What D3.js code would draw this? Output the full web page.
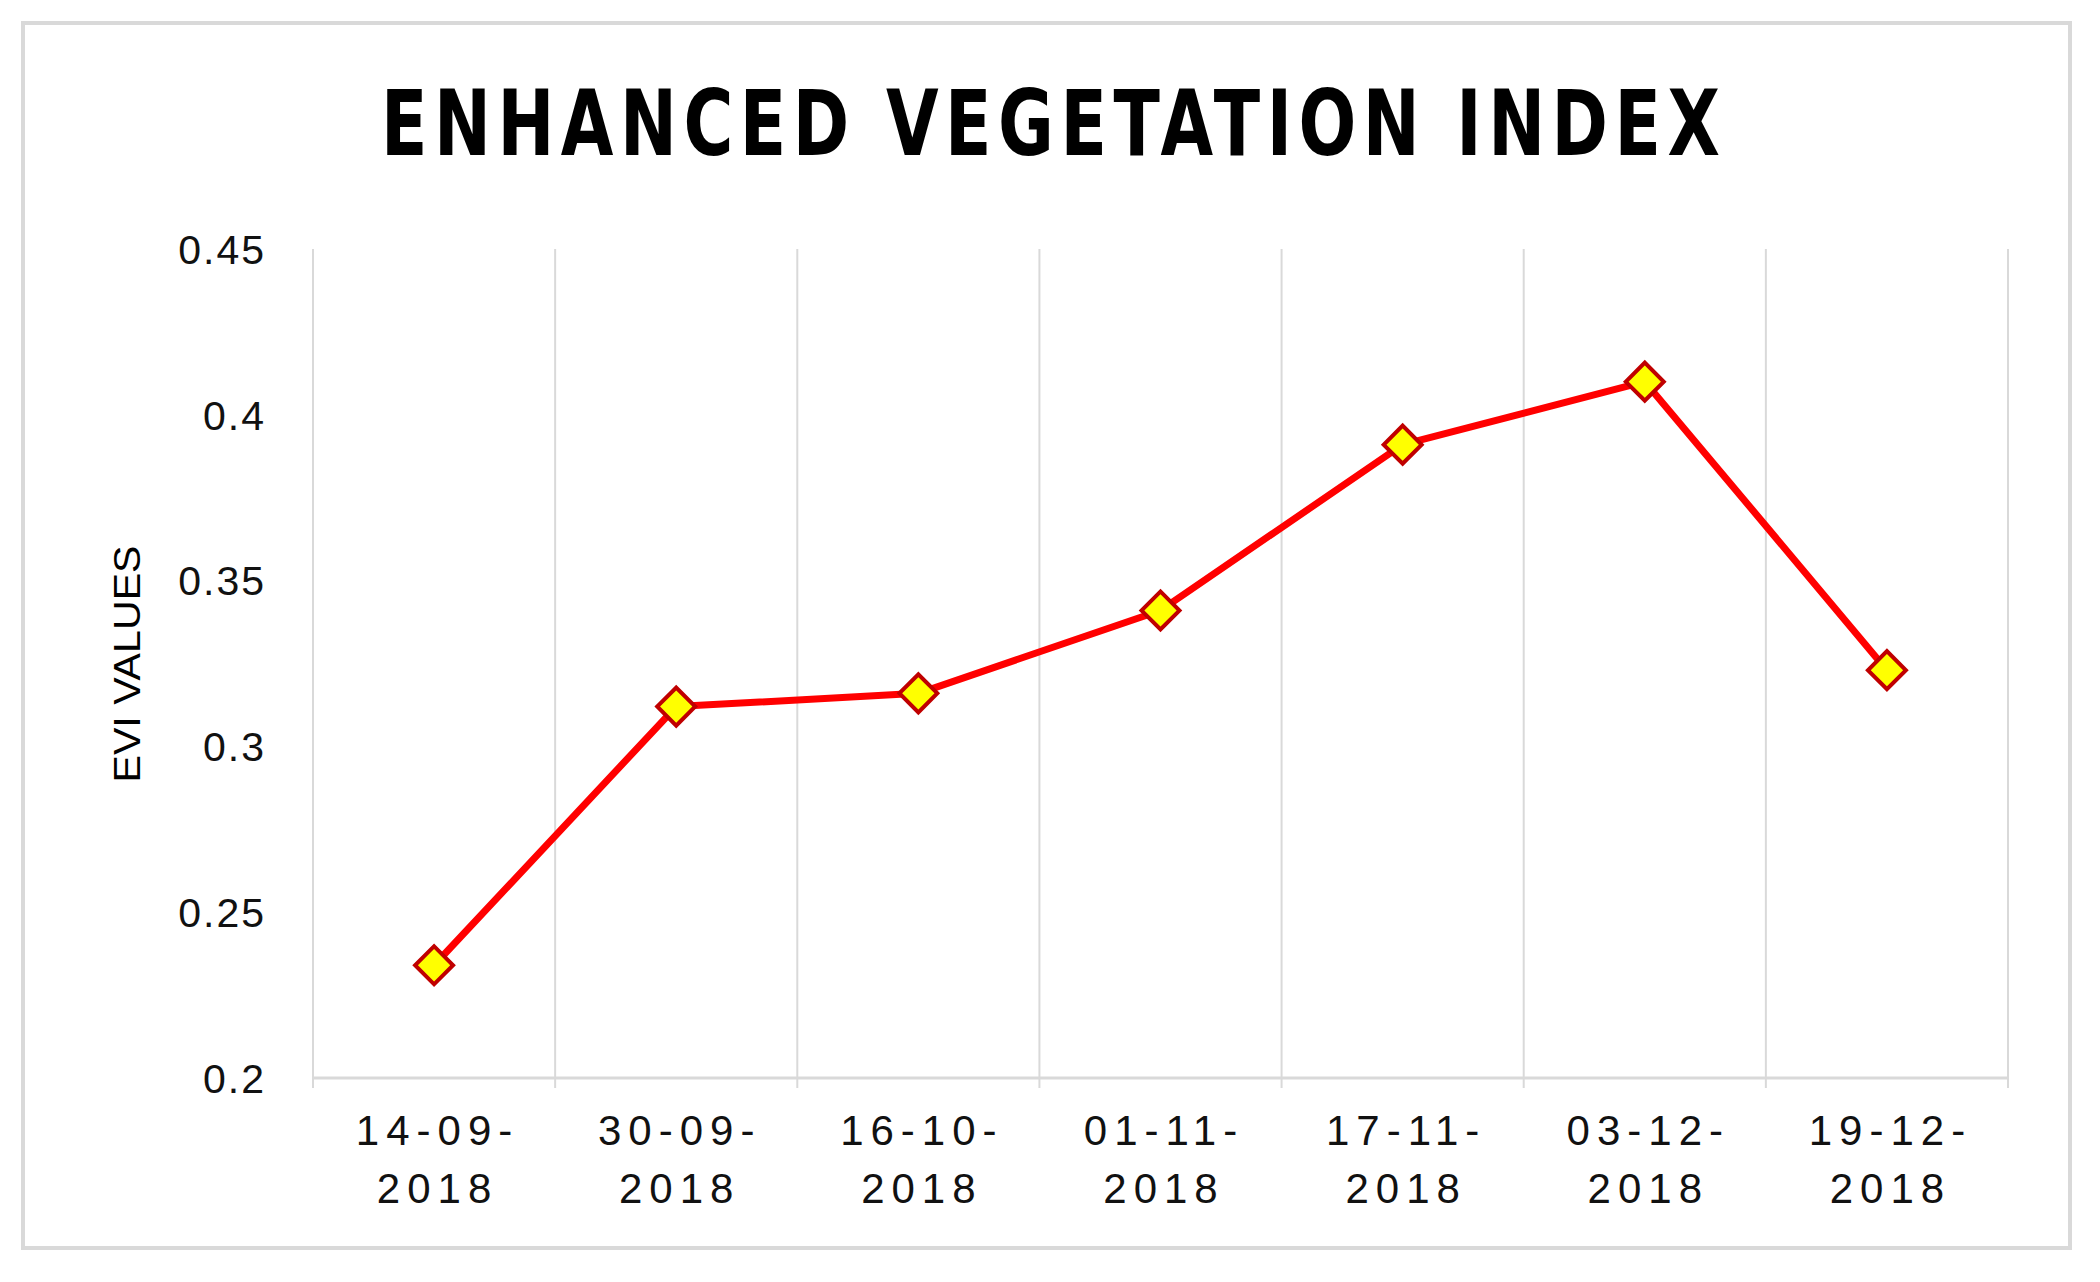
<!DOCTYPE html>
<html lang="en">
<head>
<meta charset="UTF-8">
<title>EVI</title>
<style>
  body { margin: 0; background: #fff; }
</style>
</head>
<body>
<script src="https://d3js.org/d3.v7.min.js"></script>
<script>
	var dates = ["14-09-2018", "30-09-2018", "16-10-2018", "01-11-2018", "17-11-2018", "03-12-2018", "19-12-2018"];
	var evi = [0.234, 0.312, 0.316, 0.341, 0.391, 0.410, 0.323];
	var yTicks = [0.2, 0.25, 0.3, 0.35, 0.4, 0.45];

	var width = 2100, height = 1282;
	var plot = {left: 313, right: 2008, top: 249, bottom: 1078};
	var labelFont = "'Liberation Sans', Arial, sans-serif";

	var svg = d3.select("body").append("svg")
		.attr("width", width).attr("height", height);

	// outer frame
	svg.append("rect").attr("x", 23).attr("y", 23).attr("width", 2047).attr("height", 1225)
		.attr("fill", "#fff").attr("stroke", "#d9d9d9").attr("stroke-width", 4);

	var x = d3.scaleBand().domain(dates).range([plot.left, plot.right]).padding(0);
	var y = d3.scaleLinear().domain([0.2, 0.45]).range([plot.bottom, plot.top]);

	// title: narrowed glyphs, widened spacing
	var ts = 0.84;
	var title = svg.append("text").attr("transform", "translate(381,155) scale(" + ts + ",1)")
		.attr("font-family", "'DejaVu Sans Condensed', sans-serif")
		.attr("font-weight", "bold").attr("font-size", 90).attr("fill", "#000")
		.text("ENHANCED VEGETATION INDEX");
	var tw = title.node().getComputedTextLength();
	var n = title.text().length;
	title.attr("letter-spacing", ((1339 / ts - tw) / (n - 1)) + "px");

	// vertical gridlines at category edges
	var edges = dates.map(function(d) { return x(d); }).concat([plot.right]);
	svg.selectAll(".grid").data(edges).enter().append("line")
		.attr("x1", function(d) { return d; }).attr("x2", function(d) { return d; })
		.attr("y1", plot.top).attr("y2", plot.bottom + 10)
		.attr("stroke", "#d9d9d9").attr("stroke-width", 2);

	// bottom axis line
	svg.append("line").attr("x1", plot.left).attr("x2", plot.right)
		.attr("y1", plot.bottom).attr("y2", plot.bottom)
		.attr("stroke", "#d9d9d9").attr("stroke-width", 3);

	// y tick labels
	svg.selectAll(".ytick").data(yTicks).enter().append("text")
		.attr("x", 266).attr("y", function(d) { return y(d); }).attr("dy", "0.36em")
		.attr("text-anchor", "end").attr("font-family", labelFont).attr("font-size", 41)
		.attr("letter-spacing", "2px").attr("fill", "#111")
		.text(function(d) { return d3.format("")(d); });

	// x tick labels, two lines
	var sp = 7;
	var xl = svg.selectAll(".xtick").data(dates).enter().append("text")
		.attr("text-anchor", "middle").attr("font-family", labelFont).attr("font-size", 42)
		.attr("letter-spacing", sp + "px").attr("fill", "#111");
	xl.append("tspan").attr("x", function(d) { return x(d) + x.bandwidth() / 2 + sp / 2; }).attr("y", 1145)
		.text(function(d) { return d.slice(0, 6); });
	xl.append("tspan").attr("x", function(d) { return x(d) + x.bandwidth() / 2 + sp / 2; }).attr("y", 1203)
		.text(function(d) { return d.slice(6); });

	// y axis title
	svg.append("text").attr("transform", "translate(140,664) rotate(-90)")
		.attr("text-anchor", "middle").attr("font-family", labelFont).attr("font-size", 36)
		.attr("fill", "#000").attr("textLength", 237).attr("lengthAdjust", "spacingAndGlyphs")
		.text("EVI VALUES");

	// line
	var line = d3.line()
		.x(function(d, i) { return x(dates[i]) + x.bandwidth() / 2; })
		.y(function(d) { return y(d); });
	svg.append("path").datum(evi).attr("d", line)
		.attr("fill", "none").attr("stroke", "#ff0000").attr("stroke-width", 7)
		.attr("stroke-linejoin", "round");

	// diamond markers
	var sym = d3.symbol().type(d3.symbolSquare).size(720);
	svg.selectAll(".pt").data(evi).enter().append("path")
		.attr("d", sym)
		.attr("transform", function(d, i) {
			return "translate(" + (x(dates[i]) + x.bandwidth() / 2) + "," + y(d) + ") rotate(45)";
		})
		.attr("fill", "#ffff00").attr("stroke", "#c00000").attr("stroke-width", 4);
</script>
</body>
</html>
